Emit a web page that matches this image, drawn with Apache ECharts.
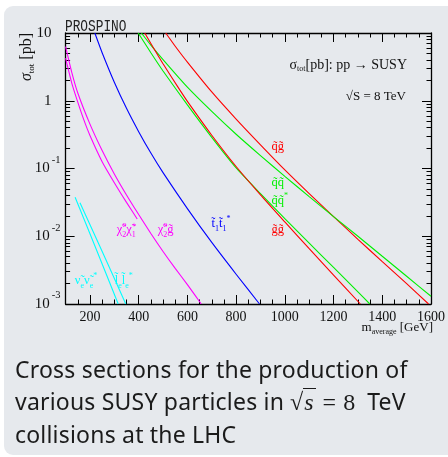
<!DOCTYPE html>
<html>
<head>
<meta charset="utf-8">
<script src="https://cdn.jsdelivr.net/npm/echarts@6/dist/echarts.min.js"></script>
<style>
  html, body { margin: 0; padding: 0; background: #ffffff; width: 448px; height: 457px; overflow: hidden; }
  #card { position: absolute; left: 4px; top: 6px; width: 454px; height: 449px; background: #e6e9ed; border-radius: 9px; }
  #chart { position: absolute; left: 0; top: 0; width: 448px; height: 457px; }
  #caption { position: absolute; left: 15px; top: 353px; width: 433px; font-family: 'Noto Sans', sans-serif; font-size: 23px; letter-spacing: 0.2px; line-height: 32px; color: #1b1b1b; white-space: nowrap; }
  #caption .m { font-family: 'Liberation Serif', serif; font-size: 24px; letter-spacing: 0; margin-left: 6px; }
  #caption .rad { border-top: 1.2px solid #1b1b1b; padding: 0 2px 0 1px; }
  #caption .op { margin: 0 7px; }
  #caption .unit { margin-left: 12px; }
</style>
</head>
<body>
<div id="card"></div>
<div id="chart"></div>
<div id="caption">Cross sections for the production of<br>various SUSY particles in<span class="m">√<span class="rad"><i>s</i></span><span class="op">=</span>8</span><span class="unit">TeV</span><br>collisions at the LHC</div>
<script>
// Total cross sections sigma_tot [pb] vs average mass [GeV], pp at sqrt(S) = 8 TeV

// squark-gluino
const massQG = [511, 550, 600, 700, 800, 900, 1000, 1100, 1200, 1300, 1400, 1500, 1590];
const sigmaQG = [10, 6.38, 3.72, 1.35, 0.537, 0.224, 0.0955, 0.0427, 0.0195, 0.00902, 0.00422, 0.002, 0.001];

// squark-squark
const massQQ = [411, 450, 500, 600, 700, 800, 900, 1000, 1100, 1200, 1300, 1400, 1500, 1600];
const sigmaQQ = [10, 6.62, 4.04, 1.585, 0.695, 0.32, 0.155, 0.0767, 0.0385, 0.0195, 0.01, 0.00507, 0.00257, 0.0013];

// squark-antisquark
const massQQbar = [398, 450, 500, 600, 700, 800, 900, 1000, 1100, 1200, 1300, 1349];
const sigmaQQbar = [10, 5.12, 2.75, 0.869, 0.288, 0.102, 0.0426, 0.01816, 0.00792, 0.00346, 0.00151, 0.001];

// gluino pair
const massGG = [425, 450, 500, 568, 600, 700, 800, 900, 1000, 1100, 1200, 1310];
const sigmaGG = [10, 7.0, 3.51, 1.46, 0.98, 0.31, 0.107, 0.0408, 0.01626, 0.00655, 0.00267, 0.001];

// stop pair
const massStop = [220, 250, 300, 350, 400, 450, 500, 600, 700, 800, 896];
const sigmaStop = [10, 5.12, 1.88, 0.774, 0.35, 0.169, 0.0869, 0.0256, 0.0081, 0.00275, 0.001];

// neutralino-gluino
const massN2G = [100, 125, 150, 200, 250, 300, 350, 400, 450, 500, 550, 600, 657];
const sigmaN2G = [6.28, 2.65, 1.303, 0.452, 0.184, 0.0832, 0.0407, 0.0209, 0.01096, 0.00596, 0.00335, 0.00193, 0.001];

// neutralino-chargino
const massN2C1 = [100, 125, 150, 175, 200, 250, 300, 350, 394];
const sigmaN2C1 = [4.24, 1.84, 0.955, 0.521, 0.307, 0.126, 0.0617, 0.0316, 0.018];

// sneutrino pair
const massSnu = [139, 227, 316];
const sigmaSnu = [0.0376, 0.00627, 0.001];

// selectron pair
const massSel = [159, 253, 347];
const sigmaSel = [0.0313, 0.00566, 0.001];

// axis ticks
const xMajorTicks = [200, 400, 600, 800, 1000, 1200, 1400, 1600];
const yMinorTicks = [];
for (let e = -3; e <= 0; e++) {
  for (let k = 2; k <= 9; k++) yMinorTicks.push(+(k * Math.pow(10, e)).toPrecision(3));
}

const RED = '#ff0000', GREEN = '#00f000', BLUE = '#0000ff', MAGENTA = '#ff00ff', CYAN = '#00ffff';
const SERIF = 'Liberation Serif';

function pairs(xs, ys) { return xs.map((x, i) => [x, ys[i]]); }

const labelRich = (color) => ({
  t: { fontFamily: SERIF, fontSize: 12.5, color: color, lineHeight: 18 },
  sb: { fontFamily: SERIF, fontSize: 8, color: color, lineHeight: 8, verticalAlign: 'bottom' },
  sp: { fontFamily: SERIF, fontSize: 8, color: color, lineHeight: 8, verticalAlign: 'top' },
  // superscript stacked over the following subscript
  spz: { fontFamily: SERIF, fontSize: 8, color: color, lineHeight: 8, verticalAlign: 'top', width: 0.01 }
});

function curve(name, xs, ys, color, tag) {
  const s = {
    name: name,
    type: 'line',
    data: pairs(xs, ys),
    smooth: 0.2,
    symbol: 'none',
    lineStyle: { color: color, width: 1.1 },
    clip: true,
    z: 3
  };
  if (tag) {
    s.markPoint = {
      symbol: 'circle',
      symbolSize: 0,
      animation: false,
      data: [{ coord: tag.at, value: 0 }],
      label: {
        show: true,
        position: 'right',
        distance: 0,
        formatter: tag.text,
        rich: labelRich(color)
      }
    };
  }
  return s;
}

const TL = '\u0303'; // combining tilde

const chart = echarts.init(document.getElementById('chart'), null, { renderer: 'canvas' });

const axisBlack = { color: '#000', width: 1.3 };

const option = {
  animation: false,
  backgroundColor: 'transparent',
  grid: { left: 65.6, top: 33, right: 15.7, bottom: 153, containLabel: false },
  xAxis: [
    {
      type: 'value', position: 'bottom', min: 100, max: 1600, interval: 50,
      axisLine: { show: true, lineStyle: axisBlack },
      axisTick: { show: true, inside: true, length: 4.5, lineStyle: { color: '#000', width: 1 } },
      axisLabel: { show: false }, splitLine: { show: false }
    },
    {
      type: 'value', position: 'bottom', min: 100, max: 1600,
      axisLine: { show: false },
      axisTick: { show: true, inside: true, length: 9, customValues: xMajorTicks, lineStyle: { color: '#000', width: 1 } },
      axisLabel: {
        show: true, customValues: xMajorTicks, margin: 6, fontFamily: SERIF, fontSize: 14, color: '#111',
        formatter: function (v) { return String(Math.round(v)); }
      },
      splitLine: { show: false }
    },
    {
      type: 'value', position: 'top', min: 100, max: 1600, interval: 50,
      axisLine: { show: true, lineStyle: axisBlack },
      axisTick: { show: true, inside: true, length: 4.5, lineStyle: { color: '#000', width: 1 } },
      axisLabel: { show: false }, splitLine: { show: false }
    },
    {
      type: 'value', position: 'top', min: 100, max: 1600,
      axisLine: { show: false },
      axisTick: { show: true, inside: true, length: 9, customValues: xMajorTicks, lineStyle: { color: '#000', width: 1 } },
      axisLabel: { show: false }, splitLine: { show: false }
    }
  ],
  yAxis: [
    {
      type: 'log', logBase: 10, position: 'left', min: 0.001, max: 10,
      axisLine: { show: true, lineStyle: axisBlack },
      axisTick: { show: true, inside: true, length: 9, lineStyle: { color: '#000', width: 1 } },
      axisLabel: {
        show: true, margin: 5, showMinLabel: true, showMaxLabel: true,
        formatter: function (v) {
          const e = Math.round(Math.log10(v));
          if (e === 1) return '{bp|10}';
          if (e === 0) return '{bp|1}';
          return '{b|10}{s|' + e + '}';
        },
        rich: {
          b: { fontFamily: SERIF, fontSize: 15, color: '#111', lineHeight: 28 },
          bp: { fontFamily: SERIF, fontSize: 15, color: '#111', lineHeight: 28, padding: [0, 9, 0, 0] },
          s: { fontFamily: SERIF, fontSize: 10.5, color: '#111', lineHeight: 10, verticalAlign: 'top', padding: [0, 0, 0, 2] }
        }
      },
      splitLine: { show: false }
    },
    {
      type: 'log', logBase: 10, position: 'left', min: 0.001, max: 10,
      axisLine: { show: false },
      axisTick: { show: true, inside: true, length: 4.5, customValues: yMinorTicks, lineStyle: { color: '#000', width: 1 } },
      axisLabel: { show: false }, splitLine: { show: false }
    },
    {
      type: 'log', logBase: 10, position: 'right', min: 0.001, max: 10,
      axisLine: { show: true, lineStyle: axisBlack },
      axisTick: { show: true, inside: true, length: 9, lineStyle: { color: '#000', width: 1 } },
      axisLabel: { show: false }, splitLine: { show: false }
    },
    {
      type: 'log', logBase: 10, position: 'right', min: 0.001, max: 10,
      axisLine: { show: false },
      axisTick: { show: true, inside: true, length: 4.5, customValues: yMinorTicks, lineStyle: { color: '#000', width: 1 } },
      axisLabel: { show: false }, splitLine: { show: false }
    }
  ],
  series: [
    curve('qg', massQG, sigmaQG, RED, { at: [945, 0.207], text: '{t|q' + TL + 'g' + TL + '}' }),
    curve('qq', massQQ, sigmaQQ, GREEN, { at: [945, 0.061], text: '{t|q' + TL + 'q' + TL + '}' }),
    curve('qqbar', massQQbar, sigmaQQbar, GREEN, { at: [945, 0.033], text: '{t|q' + TL + 'q' + TL + '}{sp|*}' }),
    curve('gg', massGG, sigmaGG, RED, { at: [945, 0.0124], text: '{t|g' + TL + 'g' + TL + '}' }),
    curve('stop', massStop, sigmaStop, BLUE, { at: [699, 0.0152], text: '{t|t' + TL + '}{sb|1}{t|t' + TL + '}{sb|1}{sp|*}' }),
    curve('n2g', massN2G, sigmaN2G, MAGENTA, { at: [478, 0.0124], text: '{t|\u03c7' + TL + '}{spz|o}{sb|2}{t|g' + TL + '}' }),
    curve('n2c1', massN2C1, sigmaN2C1, MAGENTA, { at: [310, 0.0124], text: '{t|\u03c7' + TL + '}{spz|o}{sb|2}{t|\u03c7' + TL + '}{spz|+}{sb|1}' }),
    curve('snu', massSnu, sigmaSnu, CYAN, { at: [138, 0.00219], text: '{t|\u03bd' + TL + '}{sb|e}{t|\u03bd' + TL + '}{sb|e}{sp|*}' }),
    curve('sel', massSel, sigmaSel, CYAN, { at: [302, 0.00219], text: '{t|l' + TL + '}{sb|e}{t|l' + TL + '}{sb|e}{sp|*}' })
  ],
  graphic: [
    {
      type: 'text', x: 65, y: 26.5, scaleX: 0.8,
      style: { text: 'PROSPINO', fontFamily: 'Liberation Mono', fontSize: 16, fill: '#222', align: 'left', verticalAlign: 'middle' }
    },
    {
      type: 'text', x: 27, y: 57, rotation: Math.PI / 2,
      style: {
        text: '{i|\u03c3}{sb|tot}{n| [pb]}', align: 'center', verticalAlign: 'middle',
        rich: {
          i: { fontFamily: SERIF, fontStyle: 'italic', fontSize: 16, fill: '#111', lineHeight: 18 },
          sb: { fontFamily: SERIF, fontSize: 9, fill: '#111', lineHeight: 8, verticalAlign: 'bottom' },
          n: { fontFamily: SERIF, fontSize: 16, fill: '#111', lineHeight: 18 }
        }
      }
    },
    {
      type: 'text', x: 407, y: 65,
      style: {
        text: '{n|\u03c3}{sb|tot}{n|[pb]: pp \u2192 SUSY}', align: 'right', verticalAlign: 'middle',
        rich: {
          n: { fontFamily: SERIF, fontSize: 14, fill: '#111', lineHeight: 16 },
          sb: { fontFamily: SERIF, fontSize: 8, fill: '#111', lineHeight: 8, verticalAlign: 'bottom' }
        }
      }
    },
    {
      type: 'text', x: 406, y: 97,
      style: { text: '\u221aS = 8 TeV', fontFamily: SERIF, fontSize: 13, fill: '#111', align: 'right', verticalAlign: 'middle' }
    },
    {
      type: 'text', x: 433, y: 328,
      style: {
        text: '{n|m}{sb|average}{n| [GeV]}', align: 'right', verticalAlign: 'middle',
        rich: {
          n: { fontFamily: SERIF, fontSize: 13, fill: '#111', lineHeight: 15 },
          sb: { fontFamily: SERIF, fontSize: 8, fill: '#111', lineHeight: 8, verticalAlign: 'bottom' }
        }
      }
    }
  ]
};

chart.setOption(option);
</script>
</body>
</html>
